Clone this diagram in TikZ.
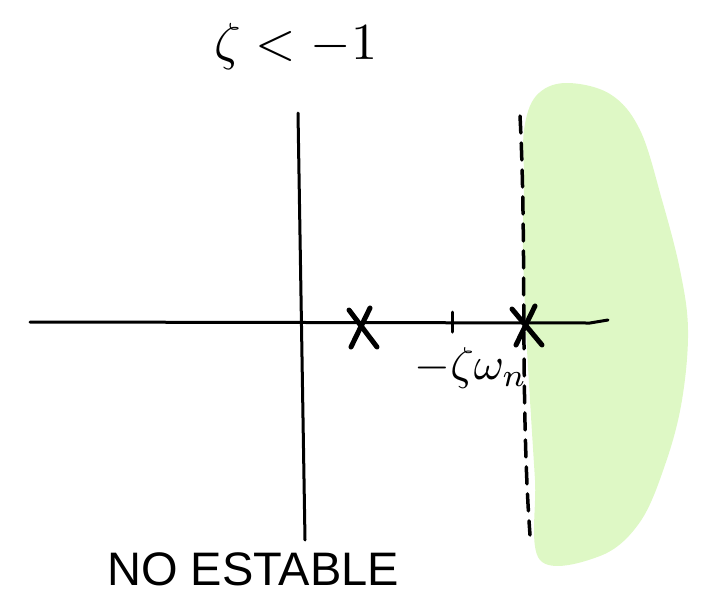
\documentclass[tikz,border=0pt]{standalone}
\usepackage{fontspec}
\setmainfont{Liberation Sans}
\usetikzlibrary{calc}
\begin{document}
\begin{tikzpicture}[x=1pt,y=-1pt,
  ink/.style={line width=3pt,line cap=round,line join=round,black},
  pole/.style={line width=5pt,line cap=round,black},
  lbl/.style={inner sep=0pt,black}]
\useasboundingbox (0,0) rectangle (701,595);
% green region
\fill[fill={rgb,255:red,222;green,248;blue,197}] plot[smooth cycle,tension=0.6] coordinates {
 (524,130) (536,96) (565,83) (610,94) (640,130) (662,200) (680,270) (688,330)
 (682,400) (666,462) (640,522) (600,556) (540,560) (535,480) (530,400)
 (526,330) (523,250) (524,180)};
% axes
\coordinate (vtop) at (298,113);
\coordinate (vbot) at (305,540);
\coordinate (hl) at (30,322);
\coordinate (hr) at (608,320);
\draw[ink] (vtop) -- (vbot);
\draw[ink] (hl) -- (590,323) -- (hr);
% dashed boundary
\coordinate (dtop) at (520,116);
\coordinate (dbot) at (530,535);
\draw[ink,line width=3.5pt,dash pattern=on 17pt off 10pt] (dtop) .. controls (527,250) and (520,400) .. (dbot);
% tick
\coordinate (tt) at (452,312);
\coordinate (tb) at (452,332);
\draw[ink] (tt) -- (tb);
% poles
\coordinate (p1) at (357,325);
\coordinate (p2) at (524,323);
\draw[pole] ($(p1)+(-8,-15)$) -- ($(p1)+(20,22)$);
\draw[pole] ($(p1)+(13,-17)$) -- ($(p1)+(-6,22)$);
\draw[pole] ($(p2)+(-12,-14)$) -- ($(p2)+(18,22)$);
\draw[pole] ($(p2)+(11,-17)$) -- ($(p2)+(-8,22)$);
% labels
\node[lbl] (wn) at (471,368) {\scalebox{4.6}{$-\zeta\omega_n$}};
\node[lbl] (title) at (296,46) {\scalebox{5.2}{$\zeta < -1$}};
\node[lbl,font=\fontsize{47}{47}\selectfont,anchor=base] (ne) at (253,585) {NO ESTABLE};
\end{tikzpicture}
\end{document}
